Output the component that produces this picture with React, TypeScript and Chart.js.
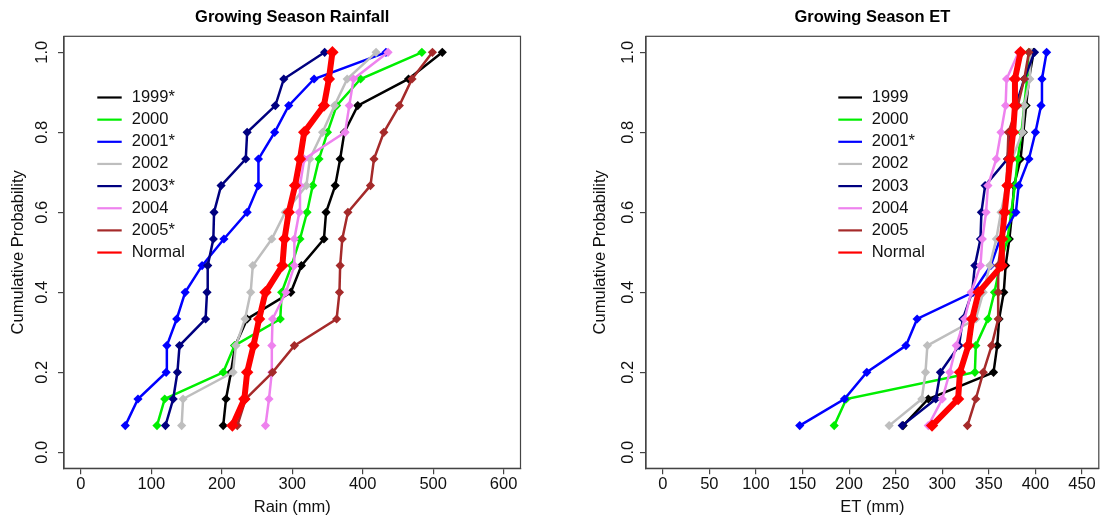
import React, { useEffect, useRef } from "react";
import { Chart, registerables } from "chart.js";

Chart.register(...registerables);

// ---------- data ----------
const PROB = [0.0667, 0.1333, 0.2, 0.2667, 0.3333, 0.4, 0.4667, 0.5333, 0.6, 0.6667, 0.7333, 0.8, 0.8667, 0.9333, 1.0];

const RAIN_LABELS = ["1999*", "2000", "2001*", "2002", "2003*", "2004", "2005*", "Normal"];
const ET_LABELS = ["1999", "2000", "2001*", "2002", "2003", "2004", "2005", "Normal"];

const RAIN_1999 = [202, 206, 213, 219, 236, 298, 313, 345, 348, 361, 368, 374, 393, 465, 513];
const RAIN_2000 = [108, 119, 202, 218, 283, 285, 299, 311, 321, 329, 338, 350, 363, 397, 484];
const RAIN_2001 = [63, 81, 121, 122, 136, 148, 172, 203, 236, 252, 252, 275, 295, 331, 433];
const RAIN_2002 = [143, 145, 216, 220, 233, 241, 244, 271, 290, 320, 325, 343, 360, 378, 419];
const RAIN_2003 = [120, 131, 137, 140, 177, 179, 180, 188, 189, 199, 234, 236, 276, 288, 346];
const RAIN_2004 = [262, 267, 271, 271, 272, 291, 303, 303, 310, 311, 317, 375, 381, 387, 436];
const RAIN_2005 = [222, 234, 272, 303, 363, 367, 368, 371, 379, 411, 416, 430, 452, 470, 499];
const RAIN_NORMAL = [215, 232, 236, 245, 253, 262, 286, 289, 295, 304, 311, 317, 345, 352, 357];

const ET_1999 = [258, 285, 355, 359, 361, 366, 368, 372, 375, 377, 384, 387, 390, 393, 398];
const ET_2000 = [184, 197, 335, 336, 349, 356, 362, 370, 374, 378, 381, 385, 388, 391, 393];
const ET_2001 = [147, 195, 219, 261, 273, 333, 352, 362, 379, 382, 393, 400, 406, 407, 412];
const ET_2002 = [243, 278, 282, 284, 336, 344, 351, 358, 363, 369, 375, 386, 388, 394, 395];
const ET_2003 = [257, 293, 298, 318, 322, 332, 335, 341, 342, 346, 370, 373, 379, 388, 399];
const ET_2004 = [285, 300, 308, 315, 324, 331, 341, 343, 347, 349, 358, 363, 368, 369, 382];
const ET_2005 = [327, 336, 344, 353, 360, 360, 360, 364, 366, 369, 370, 371, 381, 388, 393];
const ET_NORMAL = [289, 317, 319, 328, 332, 339, 364, 364, 367, 370, 373, 376, 378, 378, 384];

const RAIN_TICKS = [0, 100, 200, 300, 400, 500, 600];
const ET_TICKS = [0, 50, 100, 150, 200, 250, 300, 350, 400, 450];
const PROB_TICKS = [0, 0.2, 0.4, 0.6, 0.8, 1.0];

// ---------- styles ----------
const COLORS = ["#000000", "#00EE00", "#0000FF", "#BEBEBE", "#000080", "#EE82EE", "#A52A2A", "#FF0000"];
const FONT = "'Liberation Sans', Arial, Helvetica, sans-serif";
const FS = 16.5;
const AXIS_COLOR = "#444444";
const TEXT_COLOR = "#111111";

type PanelSpec = {
  title: string;
  xTitle: string;
  labels: string[];
  series: number[][];
  xTicks: number[];
  xMin: number;
  xMax: number;
  width: number;
  left: number;
  yAxisWidth: number;
  padRight: number;
  yTickPad: number;
  yTitlePad: number;
  legendX1: number;
  legendX2: number;
  legendTX: number;
};

const H = 520;
const PLOT_BOTTOM = 468.3;

function makeChart(canvas: HTMLCanvasElement, p: PanelSpec) {
  const datasets = p.series.map((vals, i) => {
    const isNormal = i === p.series.length - 1;
    return {
      label: p.labels[i],
      data: vals.map((v, j) => ({ x: v, y: PROB[j] })),
      borderColor: COLORS[i],
      backgroundColor: COLORS[i],
      pointBackgroundColor: COLORS[i],
      pointBorderColor: COLORS[i],
      borderWidth: isNormal ? 6 : 2.5,
      pointStyle: "rectRot" as const,
      pointRadius: isNormal ? 6.2 : 4.6,
      pointBorderWidth: 0,
      pointHoverRadius: 0,
      tension: 0,
      fill: false,
      order: -i,
    };
  });

  const boxPlugin = {
    id: "plotBox",
    beforeDatasetsDraw(chart: any) {
      const { ctx, chartArea } = chart;
      ctx.save();
      ctx.strokeStyle = AXIS_COLOR;
      ctx.lineWidth = 1.2;
      ctx.strokeRect(chartArea.left, chartArea.top, chartArea.right - chartArea.left, chartArea.bottom - chartArea.top);
      ctx.restore();
    },
  };

  const legendPlugin = {
    id: "insetLegend",
    afterDatasetsDraw(chart: any) {
      const { ctx } = chart;
      ctx.save();
      ctx.font = `${FS}px ${FONT}`;
      ctx.textBaseline = "middle";
      ctx.textAlign = "left";
      p.labels.forEach((lab, i) => {
        const y = 97.5 + i * 22.15;
        ctx.strokeStyle = COLORS[i];
        ctx.lineWidth = 2.2;
        ctx.beginPath();
        ctx.moveTo(p.legendX1, y);
        ctx.lineTo(p.legendX2, y);
        ctx.stroke();
        ctx.fillStyle = TEXT_COLOR;
        ctx.fillText(lab, p.legendTX, y);
      });
      ctx.restore();
    },
  };

  const font = { family: FONT, size: FS };
  const grid = {
    display: true,
    drawOnChartArea: false,
    drawTicks: true,
    tickLength: 6,
    color: AXIS_COLOR,
    lineWidth: 1.2,
  };
  const border = { display: true, color: AXIS_COLOR, width: 1.2 };

  return new Chart(canvas, {
    type: "line",
    data: { datasets: datasets as any },
    plugins: [boxPlugin, legendPlugin],
    options: {
      animation: false,
      responsive: false,
      devicePixelRatio: 1,
      events: [],
      layout: { padding: { left: 0, right: p.padRight, top: 0, bottom: 0 } },
      plugins: {
        legend: { display: false },
        tooltip: { enabled: false },
        title: {
          display: true,
          text: p.title,
          fullSize: false,
          color: "#000000",
          font: { family: FONT, size: FS, weight: "bold" },
          padding: { top: 7.1, bottom: 9.4 },
        },
      },
      scales: {
        x: {
          type: "linear",
          min: p.xMin,
          max: p.xMax,
          afterBuildTicks: (s: any) => {
            s.ticks = p.xTicks.map((v) => ({ value: v }));
          },
          afterFit: (s: any) => {
            s.height = H - PLOT_BOTTOM;
          },
          ticks: {
            autoSkip: false,
            minRotation: 0,
            maxRotation: 0,
            padding: 0,
            color: TEXT_COLOR,
            font,
            callback: (v: any) => String(v),
          },
          grid,
          border,
          title: {
            display: true,
            text: p.xTitle,
            color: TEXT_COLOR,
            font,
            padding: { top: 0, bottom: 3 },
          },
        },
        y: {
          type: "linear",
          min: -0.04,
          max: 1.04,
          afterBuildTicks: (s: any) => {
            s.ticks = PROB_TICKS.map((v) => ({ value: v }));
          },
          afterFit: (s: any) => {
            s.width = p.yAxisWidth;
          },
          ticks: {
            autoSkip: false,
            minRotation: 90,
            maxRotation: 90,
            crossAlign: "center",
            padding: p.yTickPad,
            color: TEXT_COLOR,
            font,
            callback: (v: any) => Number(v).toFixed(1),
          },
          grid,
          border,
          title: {
            display: true,
            text: "Cumulative Probability",
            color: TEXT_COLOR,
            font,
            padding: { top: p.yTitlePad, bottom: 0 },
          },
        },
      },
    } as any,
  });
}

function Panel({ spec }: { spec: PanelSpec }) {
  const ref = useRef<HTMLCanvasElement | null>(null);
  useEffect(() => {
    if (!ref.current) return;
    const chart = makeChart(ref.current, spec);
    return () => chart.destroy();
  }, [spec]);
  return (
    <canvas
      ref={ref}
      width={spec.width}
      height={H}
      style={{ position: "absolute", left: spec.left, top: 0, width: spec.width, height: H }}
    />
  );
}

const RAIN_PANEL: PanelSpec = {
  title: "Growing Season Rainfall",
  xTitle: "Rain (mm)",
  labels: RAIN_LABELS,
  series: [RAIN_1999, RAIN_2000, RAIN_2001, RAIN_2002, RAIN_2003, RAIN_2004, RAIN_2005, RAIN_NORMAL],
  xTicks: RAIN_TICKS,
  xMin: -24,
  xMax: 624,
  width: 552,
  left: 0,
  yAxisWidth: 64,
  padRight: 31.5,
  yTickPad: 4,
  yTitlePad: 9,
  legendX1: 97.3,
  legendX2: 121.7,
  legendTX: 131.7,
};

const ET_PANEL: PanelSpec = {
  title: "Growing Season ET",
  xTitle: "ET (mm)",
  labels: ET_LABELS,
  series: [ET_1999, ET_2000, ET_2001, ET_2002, ET_2003, ET_2004, ET_2005, ET_NORMAL],
  xTicks: ET_TICKS,
  xMin: -18,
  xMax: 468,
  width: 553,
  left: 552,
  yAxisWidth: 94,
  padRight: 2.5,
  yTickPad: 0,
  yTitlePad: 39,
  legendX1: 286.3,
  legendX2: 310,
  legendTX: 319.7,
};

export default function App() {
  return (
    <div style={{ position: "absolute", left: 0, top: 0, width: 1105, height: H, background: "#ffffff" }}>
      <Panel spec={RAIN_PANEL} />
      <Panel spec={ET_PANEL} />
    </div>
  );
}
